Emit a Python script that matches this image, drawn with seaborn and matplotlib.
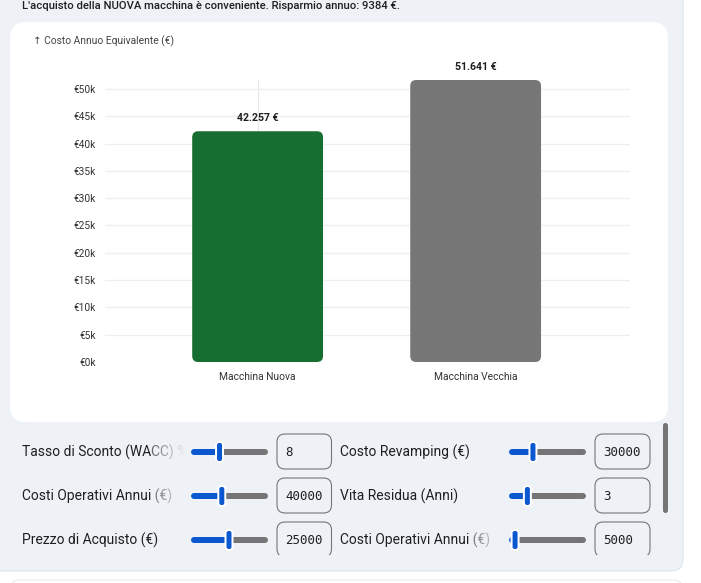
import matplotlib
matplotlib.use("Agg")
import matplotlib.pyplot as plt
from matplotlib.patches import FancyBboxPatch, Rectangle
import numpy as np
import pandas as pd
import seaborn as sns

# dati del grafico
macchine = ["Macchina Nuova", "Macchina Vecchia"]
costo_annuo = [42257, 51641]
colori = ["#166e30", "#767776"]
y_ticks = [0, 5000, 10000, 15000, 20000, 25000, 30000, 35000, 40000, 45000, 50000]

# controlli: etichetta, valore, minimo, massimo
etichette_sx = ["Tasso di Sconto (WACC) %", "Costi Operativi Annui (€)", "Prezzo di Acquisto (€)"]
valori_sx = [8, 40000, 25000]
min_sx = [1, 0, 0]
max_sx = [20, 100000, 50000]
etichette_dx = ["Costo Revamping (€)", "Vita Residua (Anni)", "Costi Operativi Annui (€)"]
valori_dx = [30000, 3, 5000]
min_dx = [0, 1, 0]
max_dx = [100000, 10, 100000]

plt.rcParams["font.family"] = ["Roboto", "DejaVu Sans"]

BG = "#eef2f7"
W, H = 701, 583
PX = 0.72  # 1 pixel in punti a 100 dpi

fig = plt.figure(figsize=(W / 100, H / 100), dpi=100, facecolor="white")

# asse "pixel" per sfondo e controlli
ui = fig.add_axes([0, 0, 1, 1], zorder=0)
ui.set_xlim(0, W)
ui.set_ylim(H, 0)
ui.axis("off")

ui.add_patch(FancyBboxPatch((10, 580), 673, 30, boxstyle="round,pad=0,rounding_size=10",
                            fc="white", ec="#e3e7ec", lw=0.7))
ui.add_patch(FancyBboxPatch((-20, -20), 703, 591, boxstyle="round,pad=0,rounding_size=12",
                            fc=BG, ec="#dde3ea", lw=0.7))
ui.add_patch(FancyBboxPatch((10, 22), 658, 400, boxstyle="round,pad=0,rounding_size=16",
                            fc="white", ec="none"))

risparmio = costo_annuo[1] - costo_annuo[0]
ui.text(22, 9, f"L'acquisto della NUOVA macchina è conveniente. Risparmio annuo: {risparmio} €.",
        fontsize=8.1, fontweight="medium", color="#1f1f1f", va="baseline")
ui.text(33, 41, "↑ Costo Annuo Equivalente (€)", fontsize=7.4, color="#444444", va="center")

# grafico a barre
ax = fig.add_axes([105 / W, (H - 362) / H, 525 / W, 282 / H], zorder=1)
ax.set_facecolor("none")
df = pd.DataFrame({"macchina": macchine, "costo": costo_annuo})
sns.barplot(data=df, x="macchina", y="costo", hue="macchina", palette=colori,
            width=0.6, saturation=1, legend=False, ax=ax)
ax.set_xlim(-0.70, 1.708)
ax.set_ylim(0, max(costo_annuo))

# angoli arrotondati
px_x = ax.transData.transform((1, 0))[0] - ax.transData.transform((0, 0))[0]
px_y = ax.transData.transform((0, 1))[1] - ax.transData.transform((0, 0))[1]
r = 6 / px_x
for p in list(ax.patches):
    x, y = p.get_x(), p.get_y()
    w, h = p.get_width(), p.get_height()
    p.set_visible(False)
    ax.add_patch(FancyBboxPatch((x, y), w, h, boxstyle=f"round,pad=0,rounding_size={r}",
                                mutation_aspect=px_x / px_y, fc=p.get_facecolor(), ec="none", zorder=2))

for i, v in enumerate(costo_annuo):
    lab = f"{v:,.0f}".replace(",", ".") + " €"
    ax.annotate(lab, (i, v), xytext=(0, 10 * PX), textcoords="offset points",
                ha="center", va="baseline", fontsize=7.6, fontweight="bold", color="#1f1f1f")

ax.axvline(0, color="#e6e6e6", lw=0.8, zorder=0.5)
ax.set_yticks(y_ticks)
ax.set_yticklabels([f"€{v // 1000}k" for v in y_ticks])
ax.yaxis.grid(True, color="#eeeeee", lw=0.9)
ax.set_axisbelow(True)
for s in ax.spines.values():
    s.set_visible(False)
ax.tick_params(axis="y", length=0, pad=6.5, labelsize=7.3, labelcolor="#333333")
ax.tick_params(axis="x", length=0, pad=7, labelsize=7.4, labelcolor="#333333")
ax.set_xlabel("")
ax.set_ylabel("")

# controlli
clip = Rectangle((0, 423), W, 132, transform=ui.transData)
righe = [452, 496, 540]
colonne = [
    (etichette_sx, valori_sx, min_sx, max_sx, 22, 190.5, 267.5, 277, 331.5, 285, 186),
    (etichette_dx, valori_dx, min_dx, max_dx, 340, 509, 585.5, 595, 650, 603, 504),
]
renderer = fig.canvas.get_renderer()
for etich, valori, mins, maxs, xl, s0, s1, b0, b1, xn, fine in colonne:
    for k, y in enumerate(righe):
        t = ui.text(xl, y, etich[k], fontsize=10, color="#1f1f1f", va="center")
        if t.get_window_extent(renderer).x1 > fine - 22:
            grad = np.zeros((1, 64, 4))
            grad[..., :3] = matplotlib.colors.to_rgb(BG)
            grad[..., 3] = np.linspace(0.25, 1, 64) ** 0.8
            ui.imshow(grad, extent=[fine - 34, fine, y + 10, y - 10], aspect="auto", zorder=3)
            ui.add_patch(Rectangle((fine, y - 10), 3, 20, fc=BG, ec="none", zorder=3))
        frac = (valori[k] - mins[k]) / (maxs[k] - mins[k])
        tx = s0 + 2.5 + frac * (s1 - s0 - 5)
        ui.plot([s0 + 3, tx], [y, y], color="#0b57d0", lw=6 * PX, solid_capstyle="round", zorder=2)
        ui.plot([tx, s1 - 3], [y, y], color="#757575", lw=6 * PX, solid_capstyle="round", zorder=2)
        ui.add_patch(FancyBboxPatch((tx - 3.5, y - 10), 7, 20, boxstyle="round,pad=0,rounding_size=3",
                                    fc="#0b57d0", ec="white", lw=2 * PX, zorder=4))
        box = FancyBboxPatch((b0, y - 18), b1 - b0, 35, boxstyle="round,pad=0,rounding_size=8",
                             fc="none", ec="#757575", lw=0.8, zorder=2)
        ui.add_patch(box)
        box.set_clip_path(clip)
        ui.text(xn, y + 1, str(valori[k]), fontsize=9, family="DejaVu Sans Mono",
                color="#1f1f1f", va="center")

ui.add_patch(FancyBboxPatch((663, 423), 5, 90, boxstyle="round,pad=0,rounding_size=2.5",
                            fc="#757575", ec="none"))
ui.set_xlim(0, W)
ui.set_ylim(H, 0)

fig.savefig("out.png", dpi=100)
